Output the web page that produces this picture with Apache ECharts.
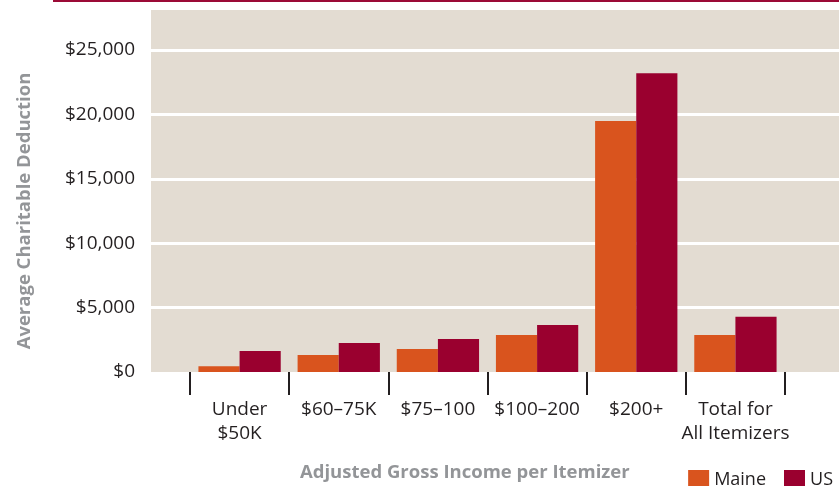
<!DOCTYPE html>
<html>
<head>
<meta charset="utf-8">
<script src="https://cdn.jsdelivr.net/npm/echarts@6/dist/echarts.min.js"></script>
<style>
  html, body { margin: 0; padding: 0; background: #fff; }
  #chart { width: 839px; height: 486px; }
</style>
</head>
<body>
<div id="chart"></div>
<script>
// income groups on the x axis
const categories = ['Under\n$50K', '$60–75K', '$75–100', '$100–200', '$200+', 'Total for\nAll Itemizers']
// average charitable deduction, dollars
const maineValues = [450, 1320, 1790, 2870, 19480, 2870]
const usValues = [1630, 2250, 2560, 3650, 23200, 4290]
const yTicks = { min: 0, max: 25000, interval: 5000 }

const font = 'Open Sans'
const dark = '#231f20'
const gray = '#939598'

const myChart = echarts.init(document.getElementById('chart'))
const option = {
  animation: false,
  textStyle: { fontFamily: font },
  title: {
    text: 'Adjusted Gross Income per Itemizer',
    left: 295,
    top: 458,
    textStyle: { fontFamily: font, fontSize: 18.5, fontWeight: 'bold', color: gray }
  },
  legend: {
    data: ['Maine', 'US'],
    right: 1,
    top: 465,
    icon: 'rect',
    itemWidth: 21,
    itemHeight: 20,
    itemGap: 18,
    textStyle: { fontFamily: font, fontSize: 18, color: dark }
  },
  graphic: [
    // beige plot background
    { type: 'rect', z: -10, shape: { x: 151, y: 10, width: 688, height: 362 }, style: { fill: '#e3dcd2' } },
    // thin red rule at the very top
    { type: 'rect', z: -10, shape: { x: 53, y: 0, width: 786, height: 2 }, style: { fill: '#9b0a36' } }
  ],
  grid: [
    // background grid: gridlines and y labels across full width
    { left: 151, right: 0, top: 50, bottom: 114 },
    // bars
    { left: 190, right: 54, top: 50, bottom: 114 }
  ],
  xAxis: [
    { type: 'value', gridIndex: 0, show: false },
    {
      type: 'category',
      gridIndex: 1,
      data: categories,
      axisLine: { show: false },
      axisTick: { show: true, interval: 0, length: 23, lineStyle: { color: dark, width: 2 } },
      axisLabel: { interval: 0, margin: 26, fontSize: 19, lineHeight: 24, color: dark, fontFamily: font }
    }
  ],
  yAxis: [
    {
      type: 'value',
      gridIndex: 0,
      min: yTicks.min,
      max: yTicks.max,
      interval: yTicks.interval,
      name: 'Average Charitable Deduction',
      nameLocation: 'middle',
      nameGap: 117,
      nameTextStyle: { fontFamily: font, fontSize: 18.5, fontWeight: 'bold', color: gray },
      axisLine: { show: false },
      axisTick: { show: false },
      axisLabel: {
        margin: 16,
        fontSize: 19,
        color: dark,
        fontFamily: font,
        formatter: function (v) {
          return '$' + v.toLocaleString('en-US')
        }
      },
      splitLine: { show: true, showMinLine: false, lineStyle: { color: '#ffffff', width: 3 } }
    },
    {
      type: 'value',
      gridIndex: 1,
      min: yTicks.min,
      max: yTicks.max,
      interval: yTicks.interval,
      show: false,
      splitLine: { show: false }
    }
  ],
  series: [
    {
      name: 'Maine',
      type: 'bar',
      xAxisIndex: 1,
      yAxisIndex: 1,
      data: maineValues,
      barGap: '0%',
      barCategoryGap: '17%',
      itemStyle: { color: '#d9541e' }
    },
    {
      name: 'US',
      type: 'bar',
      xAxisIndex: 1,
      yAxisIndex: 1,
      data: usValues,
      barGap: '0%',
      barCategoryGap: '17%',
      itemStyle: { color: '#9a002f' }
    }
  ]
}
myChart.setOption(option)
</script>
</body>
</html>
